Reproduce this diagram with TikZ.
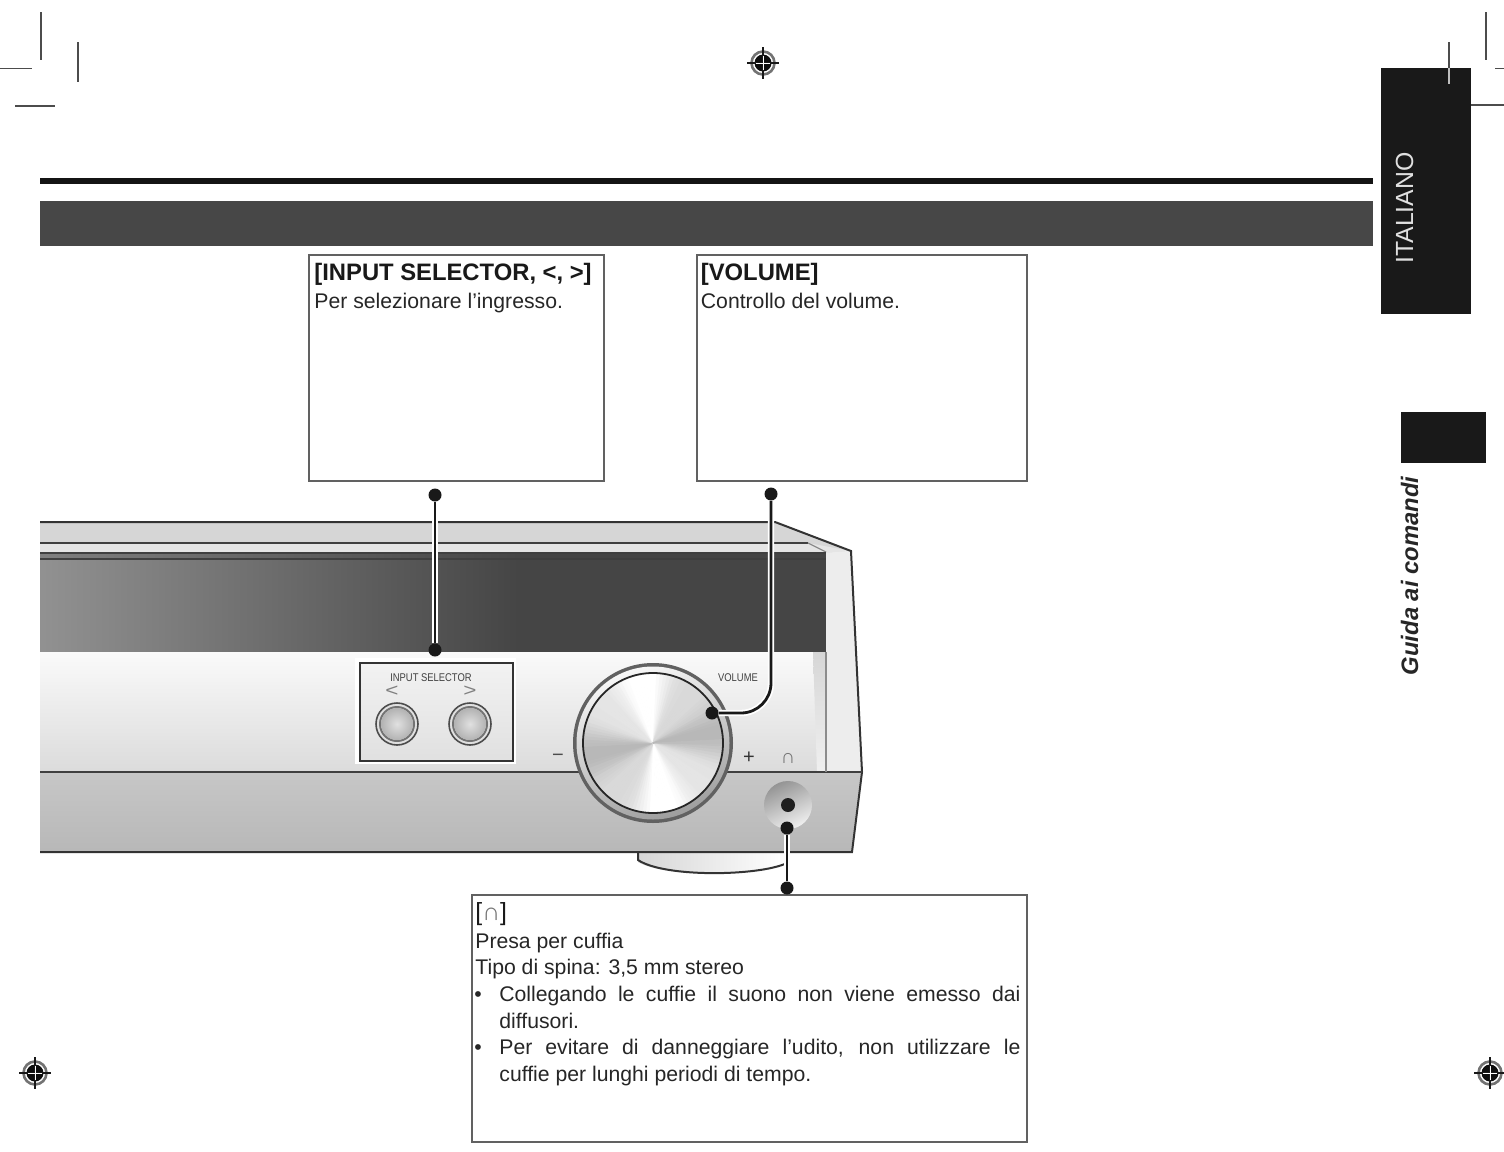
\documentclass[tikz,border=0pt]{standalone}
\usepackage{fontspec}
\setmainfont{Liberation Sans}
\tikzset{
  txt/.style={inner sep=0pt,anchor=base west,text=black!85},
  boxed/.style={draw=black!62,line width=.75pt,fill=white},
  body/.style={txt,font=\fontsize{10.6}{12}\selectfont},
  head/.style={txt,font=\fontsize{11.9}{14}\selectfont\bfseries,text=black!90},
  crop/.style={draw=black!70,line width=.75pt},
  outline/.style={draw=black!80,line width=1pt},
  thinline/.style={draw=black!75,line width=.7pt},
  leader/.style={draw=black!90,line width=1.4pt,rounded corners=15pt},
  halo/.style={draw=white,line width=3.2pt,rounded corners=15pt},
  leaddot/.style={circle,fill=black!90,minimum size=6.5pt,inner sep=0pt},
  tinylabel/.style={inner sep=0pt,font=\fontsize{5.6}{6}\selectfont,text=black!75,xscale=.84},
  reg/.pic={
    \draw[black!55,line width=1.3pt,fill=white] (0,0) circle (11.5);
    \fill[black!95] (0,0) circle (8.5);
    \draw[black!90,line width=.9pt] (-16,0) -- (16,0) (0,-16) -- (0,16);
    \draw[white,line width=.45pt] (-7,0) -- (7,0) (0,-7) -- (0,7);
  }
}
\newcommand{\hpglyph}{{\color{black!55}∩}}
\begin{document}
\begin{tikzpicture}[x=0.5pt,y=-0.5pt]
\useasboundingbox (0,0) rectangle (1504,1151);
\fill[white] (0,0) rectangle (1504,1151);

% crop marks
\draw[crop] (41,12) -- (41,60) (0,68.5) -- (32,68.5) (78,42) -- (78,82) (15,106) -- (55,106);
\draw[crop] (1486,12) -- (1486,60) (1495,68.5) -- (1504,68.5) (1470,105) -- (1504,105);
\draw[crop] (1449,42) -- (1449,68);

% registration marks
\pic at (763,63) {reg};
\pic at (35,1073) {reg};
\pic at (1490,1073) {reg};

% tabs
\fill[black!90] (1381,68) rectangle (1471,314);
\draw[black!25,line width=.75pt] (1449,68) -- (1449,84);
\fill[black!90] (1401,412) rectangle (1486,463);
\node[inner sep=0pt,rotate=90,anchor=base,text=black!12,font=\fontsize{12.4}{15}\selectfont] (lang) at (1413,208) {ITALIANO};
\node[inner sep=0pt,rotate=90,anchor=base,text=black!85,font=\fontsize{11.9}{15}\selectfont\bfseries\itshape] (sect) at (1418,576) {Guida ai comandi};

% header rule and band
\fill[black!92] (40,178) rectangle (1373,184);
\fill[black!72] (40,201) rectangle (1373,246);

% device body
\fill[black!16] (40,522) -- (775,522) -- (851,551) -- (826,553) -- (40,553) -- cycle;
\fill[black!10] (40,543) -- (808,543) -- (851,551) -- (826,553) -- (40,553) -- cycle;
\fill[black!7] (826,553) -- (851,551) -- (862,772) -- (826,772) -- cycle;
\shade[left color=black!43,right color=black!73] (40,559) rectangle (520,652);
\fill[black!73] (519,553) rectangle (826,652);
\shade[left color=black!50,right color=black!73] (40,553) rectangle (520,559);
\shade[top color=black!2,bottom color=black!14] (40,652) rectangle (826,772);
\shade[top color=black!16,bottom color=black!6] (813,652) -- (826,652) -- (826,772) -- (817,772) -- cycle;
\shade[top color=black!22,bottom color=black!28] (40,772) -- (862,772) -- (852,852) -- (40,852) -- cycle;
\shade[left color=black!16,right color=white] (638,852) -- (787,852) -- (787,863) .. controls (760,876) and (665,878) .. (638,862) -- cycle;
\draw[outline] (638,852) -- (638,860) .. controls (665,878) and (760,876) .. (787,863);
\draw[outline] (40,522) -- (775,522) -- (851,551) -- (862,772) -- (852,852) -- (40,852);
\draw[thinline] (40,543) -- (808,543);
\draw[draw=black!45,line width=.6pt] (808,543) -- (826,552);
\draw[thinline] (40,553) -- (826,553);
\draw[thinline] (40,559) -- (826,559);
\draw[thinline] (40,772) -- (862,772);
\draw[draw=black!45,line width=.6pt] (826,652) -- (826,772);

% input selector panel
\draw[draw=white,line width=2pt] (357,660) rectangle (514,762);
\shade[top color=black!5,bottom color=black!12] (359,662) rectangle (512,760);
\node[draw=black!80,line width=.8pt,inner sep=0pt,minimum width=76.5pt,minimum height=49pt,anchor=north west] (panel) at (359,662) {};
\node[tinylabel] (lblsel) at (431,678) {INPUT SELECTOR};
\node[inner sep=0pt,font=\fontsize{9}{9}\selectfont,text=black!50,xscale=1.25] (lt) at (392,691) {<};
\node[inner sep=0pt,font=\fontsize{9}{9}\selectfont,text=black!50,xscale=1.25] (gt) at (470,691) {>};
\foreach \bx/\bn in {397/bl,470/br}{
  \node[circle,draw=black!70,line width=.8pt,fill=black!12,minimum size=21pt,inner sep=0pt] (\bn) at (\bx,724) {};
  \draw[black!55,line width=1pt] (\bx,724) circle (17);
  \shade[inner color=black!12,outer color=black!30] (\bx,724) circle (16);
}

% volume dial
\fill[black!62] (653,743) circle (80);
\shade[left color=black!3,right color=black!38,shading angle=20] (653,743) circle (76.5);
\begin{scope}[shift={(653,743)}]
\clip (0,0) circle (70);
\foreach \a in {0,3,...,357}{
  \pgfmathsetmacro{\g}{int(max(0,min(36,13-12*cos(2*(\a+105))-4*cos(6*(\a+40)))))}
  \fill[black!\g,draw=black!\g,line width=.3pt] (0,0) -- (\a:90) -- (\a+3.5:90) -- cycle;
}
\end{scope}
\draw[draw=black!85,line width=.9pt] (653,743) circle (70);
\node[tinylabel] (lblvol) at (738,678) {VOLUME};
\node[inner sep=0pt,font=\fontsize{10}{10}\selectfont,text=black!70] (minus) at (558,758) {\textminus};
\node[inner sep=0pt,font=\fontsize{10}{10}\selectfont,text=black!80] (plus) at (749,758) {+};
\node[inner sep=0pt,font=\fontsize{10}{10}\selectfont,text=black!55] (hpicon) at (788,758) {∩};

% headphone jack
\shade[left color=black!42,right color=black!6,shading angle=25] (788,805) circle (24);
\node[circle,fill=black!88,minimum size=7pt,inner sep=0pt] (jack) at (788,805) {};

% callout boxes
\draw[boxed] (309,255) rectangle (604,481);
\draw[boxed] (697,255) rectangle (1027,481);
\draw[boxed] (472,895) rectangle (1027,1142);

% texts
\node[head] (t1) at (314,280) {[INPUT SELECTOR, <, >]};
\node[body] (t2) at (314,308) {Per selezionare l’ingresso.};
\node[head] (t3) at (700.5,280) {[VOLUME]};
\node[body] (t4) at (700.5,308) {Controllo del volume.};
\node[head,font=\fontsize{12.4}{14}\selectfont] (t5) at (475,920) {[\hpglyph]};
\node[body] (t6) at (475,948) {Presa per cuffia};
\node[body] (t7) at (475,974) {Tipo di spina: 3,5 mm stereo};
\node[body] (b1) at (474,1001) {•};
\node[body] (t8) at (499,1001) {\makebox[260.5pt][s]{Collegando le cuffie il suono non viene emesso dai}};
\node[body] (t9) at (499,1028) {diffusori.};
\node[body] (b2) at (474,1054) {•};
\node[body] (t10) at (499,1054) {\makebox[260.5pt][s]{Per evitare di danneggiare l’udito, non utilizzare le}};
\node[body] (t11) at (499,1081) {cuffie per lunghi periodi di tempo.};

% leaders
\node[leaddot] (d1a) at (435,495) {};
\node[leaddot] (d1b) at (435,650) {};
\draw[halo] (d1a) -- (d1b);
\draw[leader] (d1a) -- (d1b);
\node[leaddot] (d2a) at (771,494) {};
\node[leaddot] (d2b) at (712,713) {};
\draw[halo] (d2a) |- (d2b);
\draw[leader] (d2a) |- (d2b);
\node[leaddot] (d3a) at (787,828) {};
\node[leaddot] (d3b) at (787,888) {};
\draw[halo] (d3a) -- (d3b);
\draw[leader] (d3a) -- (d3b);
\end{tikzpicture}
\end{document}
